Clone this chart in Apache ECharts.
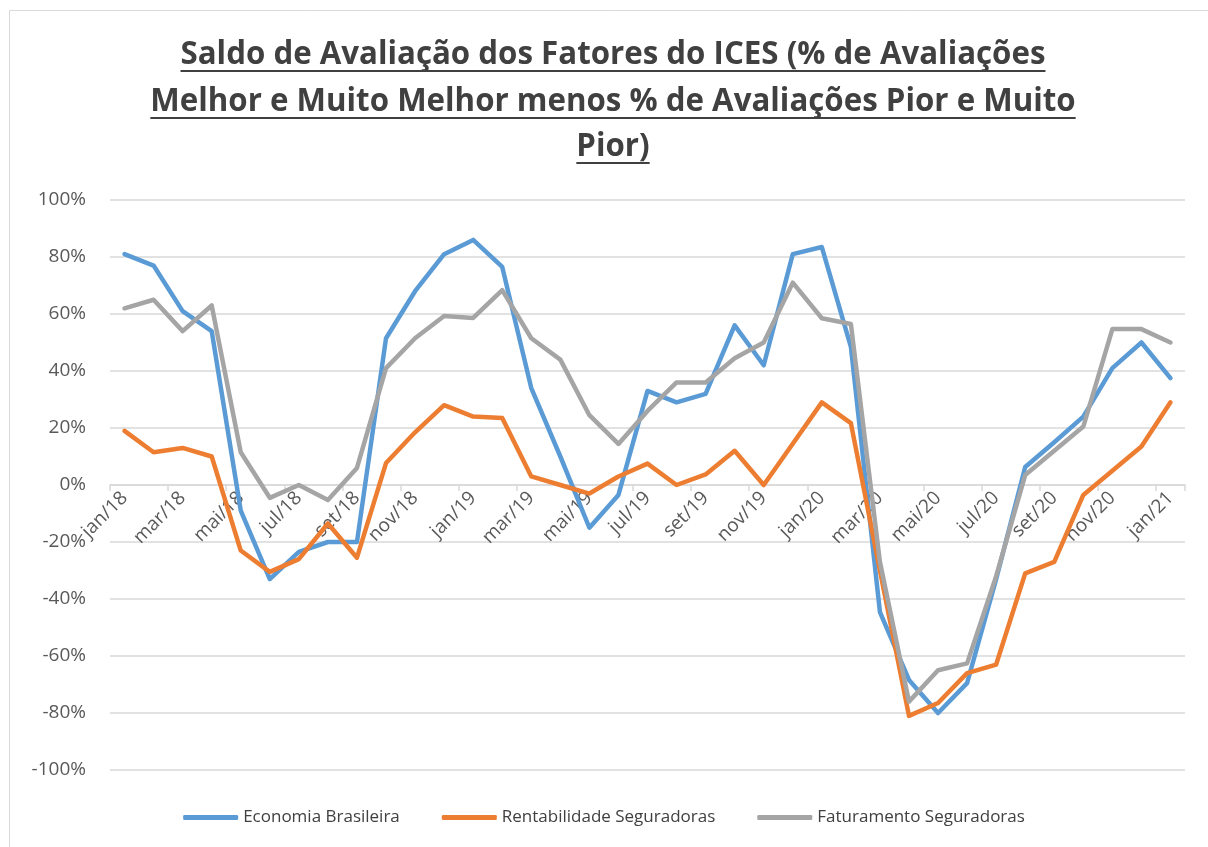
<!DOCTYPE html>
<html>
<head>
<meta charset="utf-8">
<script src="https://cdn.jsdelivr.net/npm/echarts@6/dist/echarts.min.js"></script>
<style>
html,body{margin:0;padding:0;background:#fff;}
#chart{width:1208px;height:847px;}
</style>
</head>
<body>
<div id="chart"></div>
<script>
const titleLines = [
  "Saldo de Avaliação dos Fatores do ICES (% de Avaliações",
  "Melhor e Muito Melhor menos % de Avaliações Pior e Muito",
  "Pior)"
];
const categories = [
  "jan/18","fev/18","mar/18","abr/18","mai/18","jun/18","jul/18","ago/18","set/18","out/18","nov/18","dez/18",
  "jan/19","fev/19","mar/19","abr/19","mai/19","jun/19","jul/19","ago/19","set/19","out/19","nov/19","dez/19",
  "jan/20","fev/20","mar/20","abr/20","mai/20","jun/20","jul/20","ago/20","set/20","out/20","nov/20","dez/20",
  "jan/21"
];
const seriesNames = ["Economia Brasileira","Rentabilidade Seguradoras","Faturamento Seguradoras"];
const economia = [81,77,61,54,-9,-33,-23.5,-20,-20,51.5,68,81,86,76.5,34,10,-15,-3.5,33,29,32,56,42,81,83.5,48.5,-44.6,-68.4,-80,-69.5,-33,6.3,15,24,41,50,37.5];
const rentabilidade = [19,11.5,13,10,-23,-30.5,-26,-13.5,-25.5,7.7,18.5,28,24,23.5,3,0,-3,3,7.5,0,3.7,12,0,14.5,29,21.7,-30,-81,-76.5,-66,-63,-31,-27,-3.5,5,13.5,29];
const faturamento = [62,65,54,63,11.5,-4.5,0,-5.3,6,41,51.5,59.3,58.6,68.4,51.5,44,24.5,14.4,26,36,36,44.5,50,71,58.5,56.5,-27,-76,-65,-62.6,-32,3.5,12,20.5,54.7,54.7,50];
const yMin = -100, yMax = 100, yStep = 20;

const colors = ["#5B9BD5","#ED7D31","#A5A5A5"];
const titleFamily = '"Open Sans", sans-serif';
const textColor = "#404040";

const gridTop = 200, gridBottomPx = 770;
const zeroOffset = -(gridBottomPx - (gridTop + (gridBottomPx - gridTop) * (yMax - 0) / (yMax - yMin)));

// measure title to fit reference width
const cv = document.createElement('canvas').getContext('2d');
cv.font = 'bold 30px ' + titleFamily;
const w0 = cv.measureText(titleLines[0]).width;
const titleSize = Math.min(34, 30 * 865 / w0);
cv.font = 'bold ' + titleSize + 'px ' + titleFamily;
const cx = 613;
const lineY = [55, 102, 147];
const graphics = [{
  type: 'rect', shape: {x: 9.5, y: 10.5, width: 1400, height: 1000},
  style: {fill: 'none', stroke: '#D9D9D9', lineWidth: 1}, silent: true
}];
titleLines.forEach((t, i) => {
  const w = cv.measureText(t).width;
  graphics.push({
    type: 'text', x: cx, y: lineY[i],
    style: {text: t, font: 'bold ' + titleSize + 'px ' + titleFamily, fill: textColor,
      textAlign: 'center', textVerticalAlign: 'middle'}
  });
  graphics.push({
    type: 'line', shape: {x1: cx - w/2, y1: lineY[i] + 16, x2: cx + w/2, y2: lineY[i] + 16},
    style: {stroke: textColor, lineWidth: 2}
  });
});

const chart = echarts.init(document.getElementById('chart'), null, {renderer: 'canvas'});
const mk = (name, data, c) => ({
  name, type: 'line', data, symbol: 'none', smooth: false,
  lineStyle: {width: 4.5, color: c, cap: 'round', join: 'round'},
  itemStyle: {color: c}
});
chart.setOption({
  animation: false,
  backgroundColor: '#fff',
  graphic: graphics,
  grid: {left: 110, right: 23, top: gridTop, bottom: 847 - gridBottomPx, containLabel: false},
  legend: {
    bottom: 16, left: 'center', itemWidth: 55, itemHeight: 5, itemGap: 42,
    icon: 'roundRect',
    textStyle: {fontFamily: titleFamily, fontSize: 17, color: '#404040'},
    data: seriesNames
  },
  xAxis: {
    type: 'category', data: categories, boundaryGap: true,
    offset: zeroOffset,
    axisLine: {onZero: false, lineStyle: {color: '#D9D9D9', width: 1.5}},
    axisTick: {show: true, length: 6, lineStyle: {color: '#D9D9D9', width: 1.5}},
    axisLabel: {interval: 1, rotate: 45, margin: 10, fontFamily: titleFamily, fontSize: 19, color: '#595959'},
    splitLine: {show: false}
  },
  yAxis: {
    type: 'value', min: yMin, max: yMax, interval: yStep,
    axisLine: {show: false}, axisTick: {show: false},
    axisLabel: {formatter: '{value}%', margin: 24, fontFamily: titleFamily, fontSize: 19, color: '#595959'},
    splitLine: {lineStyle: {color: '#D9D9D9', width: 1.5}}
  },
  series: [
    mk(seriesNames[0], economia, colors[0]),
    mk(seriesNames[1], rentabilidade, colors[1]),
    mk(seriesNames[2], faturamento, colors[2])
  ]
});
</script>
</body>
</html>
